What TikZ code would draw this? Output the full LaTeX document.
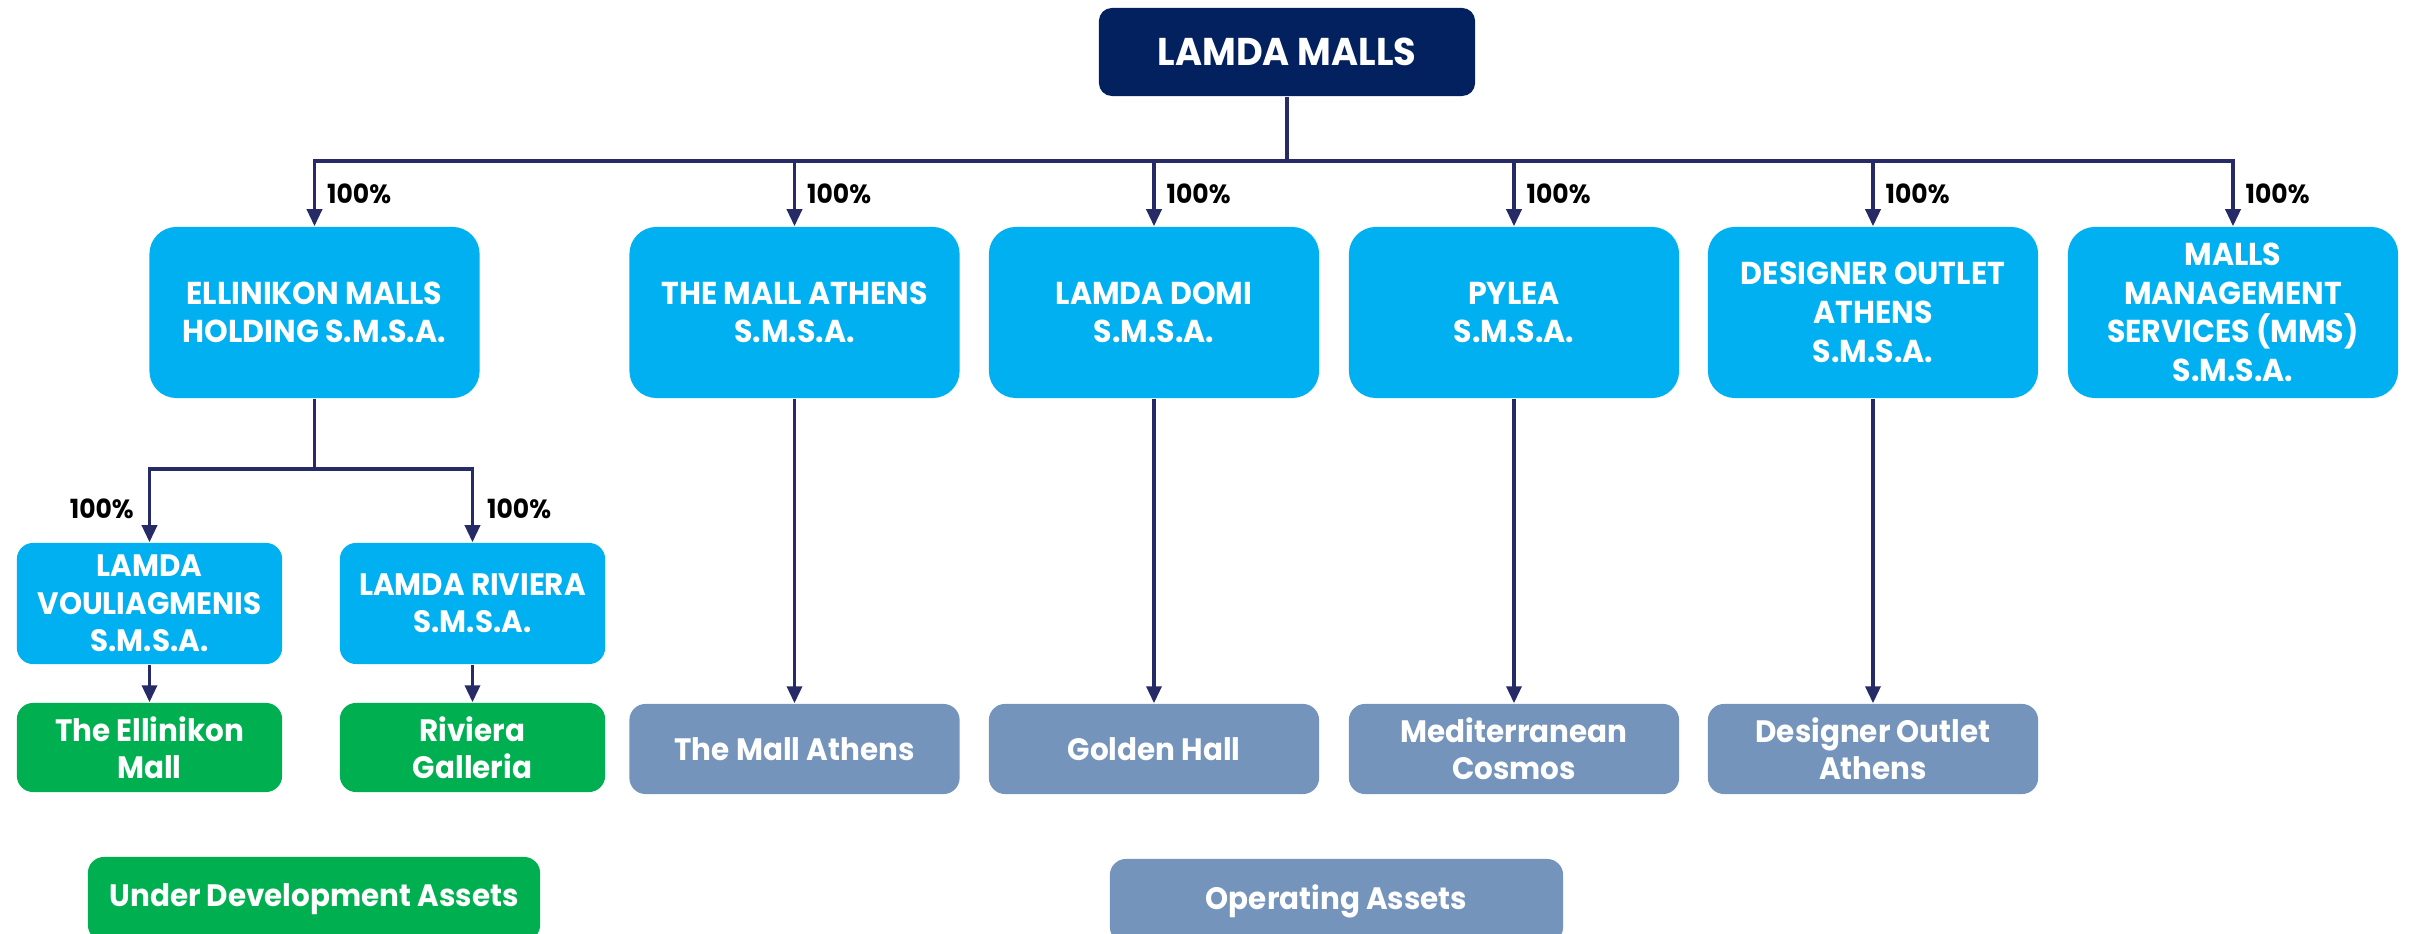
\documentclass[tikz,border=0pt]{standalone}
\usepackage{fontspec}
\setmainfont{Poppins}[FakeStretch=0.95]
\usetikzlibrary{arrows.meta}
\definecolor{topnavy}{HTML}{03215F}
\definecolor{linenavy}{HTML}{262A66}
\definecolor{lblue}{HTML}{00B0F0}
\definecolor{dgreen}{HTML}{00B050}
\definecolor{opblue}{HTML}{7594BB}
\tikzset{
  conn/.style={draw=linenavy, line width=0.035cm},
  arr/.style={conn, -{Triangle[width=0.15cm,length=0.17cm]}},
  box/.style={text=white, align=center, inner sep=0pt, font=\bfseries\fontsize{9}{11}\selectfont},
  topbox/.style={box, fill=topnavy, rounded corners=0.13cm, minimum width=3.76cm, minimum height=0.88cm, font=\bfseries\fontsize{11}{13}\selectfont},
  lone/.style={box, fill=lblue, rounded corners=0.27cm, minimum width=3.3cm, minimum height=1.71cm},
  ltwo/.style={box, fill=lblue, rounded corners=0.16cm, minimum width=2.65cm, minimum height=1.21cm, font=\bfseries\fontsize{8.8}{10.6}\selectfont},
  devbox/.style={box, fill=dgreen, rounded corners=0.16cm, minimum width=2.65cm, minimum height=0.89cm, font=\bfseries\fontsize{8.8}{10.6}\selectfont},
  opbox/.style={box, fill=opblue, rounded corners=0.16cm, minimum width=3.3cm, minimum height=0.9cm, font=\bfseries\fontsize{8.8}{10.6}\selectfont},
  legdev/.style={box, fill=dgreen, rounded corners=0.16cm, minimum width=4.52cm, minimum height=0.84cm, font=\bfseries\fontsize{8.8}{10.6}\selectfont},
  legop/.style={box, fill=opblue, rounded corners=0.16cm, minimum width=4.53cm, minimum height=0.84cm, font=\bfseries\fontsize{8.8}{10.6}\selectfont},
  pct/.style={font=\bfseries\fontsize{7.5}{9}\selectfont, text=black, inner sep=0pt}
}
\begin{document}
\begin{tikzpicture}[x=0.01cm,y=-0.01cm]
\useasboundingbox (0,0) rectangle (2417,934);
% top
\node[topbox] (top) at (1287,52) {LAMDA MALLS};
% level 1
\node[lone] (emh) at (314.5,312.5) {ELLINIKON MALLS\\HOLDING S.M.S.A.};
\node[lone] (tma) at (794.5,312.5) {THE MALL ATHENS\\S.M.S.A.};
\node[lone] (ldo) at (1154,312.5) {LAMDA DOMI\\S.M.S.A.};
\node[lone] (pyl) at (1514,312.5) {PYLEA\\S.M.S.A.};
\node[lone] (doa) at (1873,312.5) {DESIGNER OUTLET\\ATHENS\\S.M.S.A.};
\node[lone] (mms) at (2233,312.5) {MALLS\\MANAGEMENT\\SERVICES (MMS)\\S.M.S.A.};
% level 2
\node[ltwo] (lvo) at (149.5,603.5) {LAMDA\\VOULIAGMENIS\\S.M.S.A.};
\node[ltwo] (lri) at (472.5,603.5) {LAMDA RIVIERA\\S.M.S.A.};
% assets
\node[devbox] (tem) at (149.5,747.5) {The Ellinikon\\Mall};
\node[devbox] (rga) at (472.5,747.5) {Riviera\\Galleria};
\node[opbox] (amall) at (794.5,749) {The Mall Athens};
\node[opbox] (agold) at (1154,749) {Golden Hall};
\node[opbox] (amed) at (1514,749) {Mediterranean\\Cosmos};
\node[opbox] (ades) at (1873,749) {Designer Outlet\\Athens};
% legend
\node[legdev] (legd) at (314,899) {Under Development Assets};
\node[legop] (lego) at (1336.5,901) {Operating Assets};
% bus coordinates
\coordinate (bus) at (0,161);
\coordinate (bus2) at (0,469);
% connectors from top
\draw[conn] (top.south) -- (top.south |- bus);
\foreach \n in {emh,tma,ldo,pyl,doa,mms}{
  \draw[arr] (top.south |- bus) -| (\n.north);
}
% percent labels level 1
\foreach \n in {emh,tma,ldo,pyl,doa,mms}{
  \node[pct, anchor=west] (p\n) at ([xshift=0.12cm,yshift=0.32cm]\n.north) {100\%};
}
% ellinikon to level 2
\draw[conn] (emh.south) -- (emh.south |- bus2);
\draw[arr] (emh.south |- bus2) -| (lvo.north);
\draw[arr] (emh.south |- bus2) -| (lri.north);
\node[pct, anchor=east] (plvo) at ([xshift=-0.15cm,yshift=0.33cm]lvo.north) {100\%};
\node[pct, anchor=west] (plri) at ([xshift=0.14cm,yshift=0.33cm]lri.north) {100\%};
% level 2 to assets
\draw[arr] (lvo.south) -- (tem.north);
\draw[arr] (lri.south) -- (rga.north);
\draw[arr] (tma.south) -- (amall.north);
\draw[arr] (ldo.south) -- (agold.north);
\draw[arr] (pyl.south) -- (amed.north);
\draw[arr] (doa.south) -- (ades.north);
\end{tikzpicture}
\end{document}
